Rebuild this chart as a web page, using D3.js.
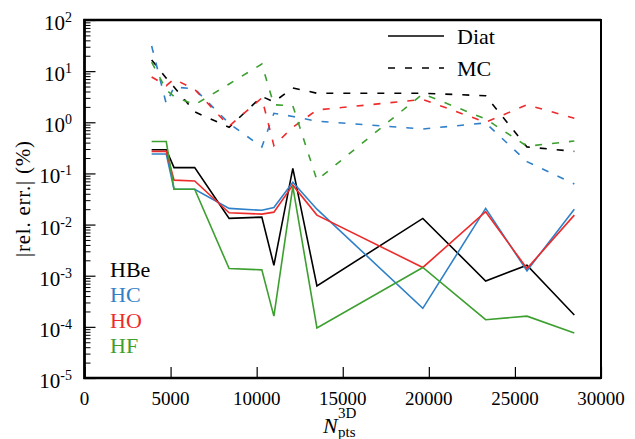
<!DOCTYPE html>
<html>
<head>
<meta charset="utf-8">
<script src="https://cdn.jsdelivr.net/npm/d3@7"></script>
<style>
body { margin: 0; background: #fff; }
text { font-family: "Liberation Serif", "DejaVu Serif", serif; fill: #000; }
</style>
</head>
<body>
<svg width="635" height="439"></svg>
<script>
// number of 3D points (x)
var nPts = [3900, 4750, 5200, 6400, 8400, 10300, 11000, 12100, 13500, 19650, 23300, 25700, 28450]

// Diat (solid) rel. err. in %
var diatHBe = [0.29, 0.29, 0.13, 0.13, 0.0132, 0.014, 0.0016, 0.126, 0.00063, 0.0132, 0.00079, 0.0016, 0.00017]
var diatHC  = [0.24, 0.24, 0.049, 0.049, 0.0207, 0.019, 0.0216, 0.067, 0.02, 0.00023, 0.0207, 0.00125, 0.02]
var diatHO  = [0.27, 0.27, 0.074, 0.071, 0.017, 0.016, 0.0175, 0.059, 0.0153, 0.00145, 0.0178, 0.00138, 0.0153]
var diatHF  = [0.42, 0.42, 0.049, 0.049, 0.00138, 0.0013, 0.000162, 0.055, 0.000095, 0.00145, 0.000138, 0.000162, 0.000076]

// MC (dashed) rel. err. in %
var mcHBe = [16.6, 7.3, 4.9, 1.6, 0.8, 3.2, 2.5, 4.7, 3.7, 3.7, 3.3, 0.33, 0.27]
var mcHC  = [31, 2.3, 4.9, 4.5, 0.95, 0.33, 1.5, 1.3, 1.05, 0.74, 0.97, 0.17, 0.062]
var mcHO  = [7.7, 5.2, 7.0, 4.4, 0.84, 3.0, 0.35, 0.8, 1.74, 2.8, 1.0, 2.2, 1.2]
var mcHF  = [15, 4.3, 3.2, 2.2, 5.6, 13.8, 2.2, 2.1, 0.074, 3.6, 1.16, 0.34, 0.43]

var molecules = ['HBe', 'HC', 'HO', 'HF']
var colors = ['#000000', '#2f80c8', '#ee2a2a', '#3c9f2f']
var xTicks = [0, 5000, 10000, 15000, 20000, 25000, 30000]
var yExps = [-5, -4, -3, -2, -1, 0, 1, 2]

var pLeft = 84.5, pRight = 601, pTop = 20, pBottom = 378

var svg = d3.select('svg')

var x = d3.scaleLinear().domain([0, 30000]).range([pLeft, pRight])
var y = d3.scaleLog().domain([1e-5, 1e2]).range([pBottom, pTop])

// minor y ticks
var minor = y.ticks().filter(function(d) {
    return Math.abs(Math.log10(d) - Math.round(Math.log10(d))) > 1e-6
})
svg.append('g')
    .attr('transform', 'translate(' + pLeft + ',0)')
    .call(d3.axisLeft(y).tickValues(minor).tickSize(-6).tickFormat(''))
    .call(function(g) { g.select('.domain').remove() })
    .selectAll('line').attr('stroke', '#000').attr('stroke-width', 1)

// major y ticks
svg.append('g')
    .attr('transform', 'translate(' + pLeft + ',0)')
    .call(d3.axisLeft(y).tickValues(yExps.map(function(e) { return Math.pow(10, e) })).tickSize(-11).tickFormat(''))
    .call(function(g) { g.select('.domain').remove() })
    .selectAll('line').attr('stroke', '#000').attr('stroke-width', 1.2)

// x ticks (inward)
svg.append('g')
    .attr('transform', 'translate(0,' + pBottom + ')')
    .call(d3.axisBottom(x).tickValues(xTicks).tickSize(-11).tickFormat(''))
    .call(function(g) { g.select('.domain').remove() })
    .selectAll('line').attr('stroke', '#000').attr('stroke-width', 1.2)

// frame
svg.append('rect')
    .attr('x', pLeft).attr('y', pTop)
    .attr('width', pRight - pLeft).attr('height', pBottom - pTop)
    .attr('fill', 'none').attr('stroke', '#000').attr('stroke-width', 2)
svg.append('path')
    .attr('d', 'M' + pRight + ',' + pTop + 'H' + pLeft + 'V' + pBottom + 'H' + pRight)
    .attr('fill', 'none').attr('stroke', '#000').attr('stroke-width', 2.6)

// x tick labels
svg.selectAll('.xlab')
    .data(xTicks)
    .enter()
    .append('text')
    .attr('class', 'xlab')
    .attr('x', function(d) { return x(d) })
    .attr('y', 405)
    .attr('text-anchor', 'middle')
    .attr('font-size', 19)
    .text(function(d) { return d })

// y tick labels: 10^e
var ylab = svg.selectAll('.ylab')
    .data(yExps)
    .enter()
    .append('text')
    .attr('class', 'ylab')
    .attr('x', 72)
    .attr('y', function(d) { return y(Math.pow(10, d)) + 10 })
    .attr('text-anchor', 'end')
    .attr('font-size', 21)
ylab.append('tspan').text('10')
ylab.append('tspan')
    .attr('dy', -8)
    .attr('font-size', 14)
    .text(function(d) { return d })

// axis titles
svg.append('text')
    .attr('transform', 'translate(30,199) rotate(-90)')
    .attr('text-anchor', 'middle')
    .attr('font-size', 21)
    .attr('textLength', 116)
    .text('|rel. err.| (%)')

svg.append('text')
    .attr('x', 323)
    .attr('y', 433)
    .attr('font-size', 22)
    .attr('font-style', 'italic')
    .text('N')
svg.append('text')
    .attr('x', 338).attr('y', 418)
    .attr('font-size', 15)
    .text('3D')
svg.append('text')
    .attr('x', 338).attr('y', 437)
    .attr('font-size', 15)
    .text('pts')

// lines
var line = d3.line()
    .x(function(d) { return x(d[0]) })
    .y(function(d) { return y(d[1]) })

var diat = [diatHBe, diatHC, diatHO, diatHF]
var mc = [mcHBe, mcHC, mcHO, mcHF]

svg.selectAll('.mc')
    .data(mc)
    .enter()
    .append('path')
    .attr('class', 'mc')
    .attr('d', function(vals) { return line(d3.zip(nPts, vals)) })
    .attr('fill', 'none')
    .attr('stroke', function(d, i) { return colors[i] })
    .attr('stroke-width', 1.6)
    .attr('stroke-dasharray', '7,10')

svg.selectAll('.diat')
    .data(diat)
    .enter()
    .append('path')
    .attr('class', 'diat')
    .attr('d', function(vals) { return line(d3.zip(nPts, vals)) })
    .attr('fill', 'none')
    .attr('stroke', function(d, i) { return colors[i] })
    .attr('stroke-width', 1.6)

// legend: line styles
svg.append('line')
    .attr('x1', 388).attr('x2', 444).attr('y1', 36).attr('y2', 36)
    .attr('stroke', '#000').attr('stroke-width', 1.6)
svg.append('text').attr('x', 457).attr('y', 44).attr('font-size', 22).text('Diat')
svg.append('line')
    .attr('x1', 388).attr('x2', 444).attr('y1', 68).attr('y2', 68)
    .attr('stroke', '#000').attr('stroke-width', 1.6)
    .attr('stroke-dasharray', '7,10')
svg.append('text').attr('x', 457).attr('y', 76).attr('font-size', 22).text('MC')

// legend: molecules
svg.selectAll('.mol')
    .data(molecules)
    .enter()
    .append('text')
    .attr('class', 'mol')
    .attr('x', 110)
    .attr('y', function(d, i) { return 276.5 + i * 25.5 })
    .attr('font-size', 22)
    .style('fill', function(d, i) { return colors[i] })
    .text(function(d) { return d })
</script>
</body>
</html>
